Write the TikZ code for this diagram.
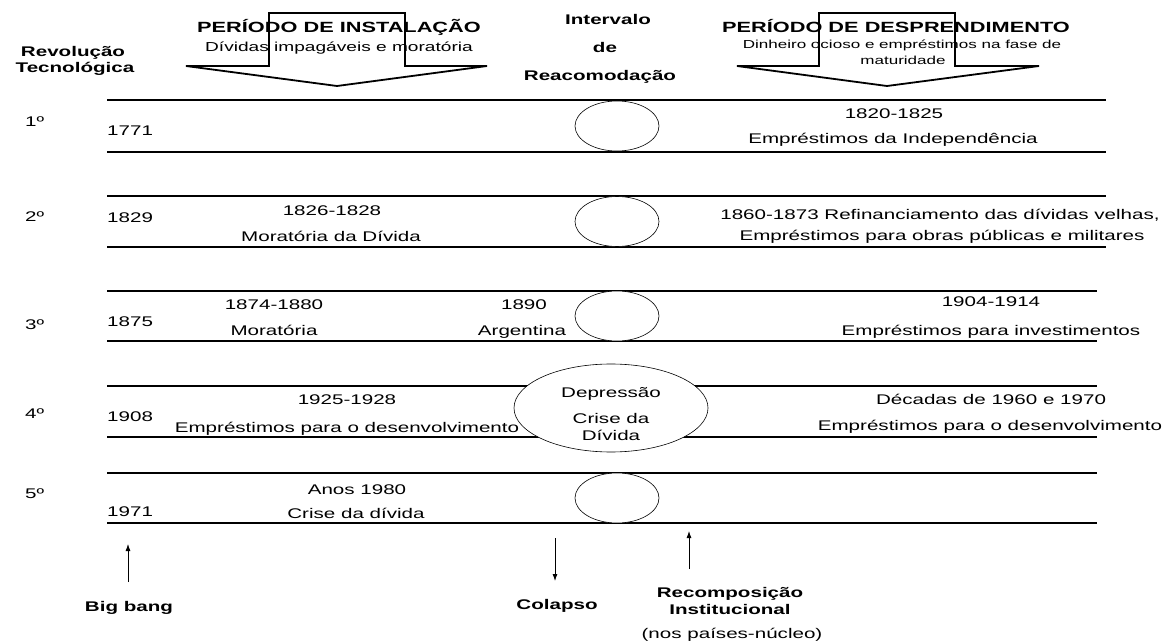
\documentclass[tikz,border=0pt]{standalone}
\usepackage{fontspec}
\setmainfont[FakeStretch=1.47]{Liberation Sans}
\usetikzlibrary{arrows}
\usetikzlibrary{arrows.meta}
\usetikzlibrary{calc}
\usetikzlibrary{positioning}
\usetikzlibrary{shapes.geometric}

\tikzset{
  faixa/.style={line width=1.7pt},
  bloco/.style={line width=1.8pt, line join=miter},
  txt/.style={inner sep=0pt, anchor=base, font=\fontsize{14}{16}\selectfont},
  rot/.style={inner sep=0pt, anchor=base, font=\fontsize{14}{16}\selectfont\bfseries},
  titulo/.style={inner sep=0pt, anchor=base, font=\fontsize{14.8}{17}\selectfont\bfseries},
  intervalo/.style={draw, ellipse, fill=white, line width=0.6pt, inner sep=0pt},
  seta/.style={-{Latex[length=7pt,width=5pt]}, line width=0.8pt},
}

\begin{document}
\begin{tikzpicture}[x=1pt, y=-1pt]
        \useasboundingbox (0,0) rectangle (1168,644);

        % setas dos periodos
        \draw[bloco] (269,13) -- (269,66) -- (186,66) -- (337,86) -- (487,66) -- (405,66) -- (405,13) -- cycle;
        \draw[bloco] (819,13) -- (819,66) -- (737,66) -- (887,86) -- (1039,66) -- (955,66) -- (955,13) -- cycle;

        \node[rot] (revol) at (73,57) {Revolução};
        \node[rot] (tecno) at (75,73) {Tecnológica};
        \node[titulo] (inst) at (339,33) {PERÍODO DE INSTALAÇÃO};
        \node[txt, font=\fontsize{13}{15}\selectfont] (instsub) at (339,52) {Dívidas impagáveis e moratória};
        \node[rot] (interv) at (608,25) {Intervalo};
        \node[rot] (de) at (605,53) {de};
        \node[rot] (reac) at (600,81) {Reacomodação};
        \node[titulo] (desp) at (896,33) {PERÍODO DE DESPRENDIMENTO};
        \node[txt, font=\fontsize{11.6}{13}\selectfont] (despsub) at (902,49) {Dinheiro ocioso e empréstimos na fase de};
        \node[txt, font=\fontsize{11.6}{13}\selectfont] (despsub2) at (903,65) {maturidade};

        % faixas das revolucoes
        \draw[faixa] (107,100) -- (1106,100);
        \draw[faixa] (107,152) -- (1106,152);
        \draw[faixa] (107,196) -- (1106,196);
        \draw[faixa] (107,247) -- (1106,247);
        \draw[faixa] (107,291) -- (1097,291);
        \draw[faixa] (107,341) -- (1097,341);
        \draw[faixa] (107,386) -- (1097,386);
        \draw[faixa] (107,437) -- (1097,437);
        \draw[faixa] (107,473) -- (1097,473);
        \draw[faixa] (107,523) -- (1097,523);

        % intervalos
        \node[intervalo, minimum width=84pt, minimum height=50pt] (int1) at (617,126) {};
        \node[intervalo, minimum width=84pt, minimum height=50pt] (int2) at (617,221.5) {};
        \node[intervalo, minimum width=84pt, minimum height=50pt] (int3) at (617,316) {};
        \node[intervalo, minimum width=194pt, minimum height=88pt] (int4) at (611,408) {};
        \node[intervalo, minimum width=84pt, minimum height=50pt] (int5) at (617,498) {};

        % 1a revolucao
        \node[txt, anchor=base west] (ord1) at (25,127) {1º};
        \node[txt, anchor=base west] (ano1) at (107,136) {1771};
        \node[txt] (d1a) at (894,119) {1820-1825};
        \node[txt] (d1b) at (893,144) {Empréstimos da Independência};

        % 2a revolucao
        \node[txt, anchor=base west] (ord2) at (25,222) {2º};
        \node[txt, anchor=base west] (ano2) at (107,223) {1829};
        \node[txt] (i2a) at (332,216) {1826-1828};
        \node[txt] (i2b) at (331,242) {Moratória da Dívida};
        \node[txt] (d2a) at (940,220) {1860-1873 Refinanciamento das dívidas velhas,};
        \node[txt] (d2b) at (942,241) {Empréstimos para obras públicas e militares};

        % 3a revolucao
        \node[txt, anchor=base west] (ord3) at (25,330) {3º};
        \node[txt, anchor=base west] (ano3) at (107,327) {1875};
        \node[txt] (i3a) at (274,310) {1874-1880};
        \node[txt] (i3b) at (274,336) {Moratória};
        \node[txt] (c3a) at (524,310) {1890};
        \node[txt] (c3b) at (522,336) {Argentina};
        \node[txt] (d3a) at (991,307) {1904-1914};
        \node[txt] (d3b) at (991,336) {Empréstimos para investimentos};

        % 4a revolucao
        \node[txt, anchor=base west] (ord4) at (25,418) {4º};
        \node[txt, anchor=base west] (ano4) at (107,421) {1908};
        \node[txt] (i4a) at (347,405) {1925-1928};
        \node[txt] (i4b) at (347,432) {Empréstimos para o desenvolvimento};
        \node[txt] (c4a) at (611,398) {Depressão};
        \node[txt] (c4b) at (611,424) {Crise da};
        \node[txt] (c4c) at (611,440) {Dívida};
        \node[txt] (d4a) at (991,404) {Décadas de 1960 e 1970};
        \node[txt] (d4b) at (990,430) {Empréstimos para o desenvolvimento};

        % 5a revolucao
        \node[txt, anchor=base west] (ord5) at (25,498) {5º};
        \node[txt, anchor=base west] (ano5) at (107,516) {1971};
        \node[txt] (i5a) at (357,494) {Anos 1980};
        \node[txt] (i5b) at (356,518) {Crise da dívida};

        % fases
        \node[rot] (bigbang) at (129,611) {Big bang};
        \node[rot] (colapso) at (557,609) {Colapso};
        \node[rot] (recomp) at (730,597) {Recomposição};
        \node[rot] (instit) at (730,614) {Institucional};
        \node[txt] (nucleo) at (732,638) {(nos países-núcleo)};

        \coordinate (bb0) at (128,582);
        \coordinate (bb1) at (128,544);
        \coordinate (co0) at (555,538);
        \coordinate (co1) at (555,581);
        \coordinate (rc0) at (689,569);
        \coordinate (rc1) at (689,531);
        \draw[seta] (bb0) -- (bb1);
        \draw[seta] (co0) -- (co1);
        \draw[seta] (rc0) -- (rc1);
\end{tikzpicture}
\end{document}
